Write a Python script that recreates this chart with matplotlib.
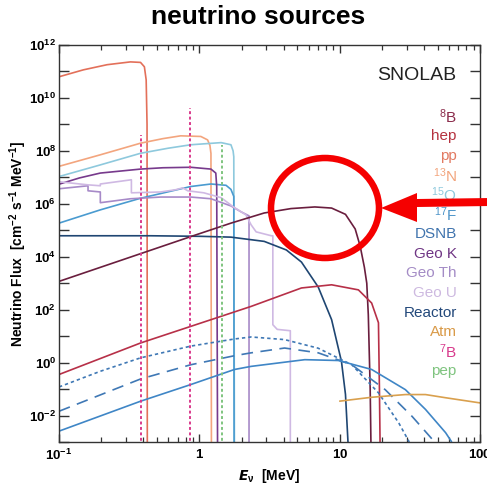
import numpy as np
import matplotlib
matplotlib.use('Agg')
import matplotlib.pyplot as plt
from matplotlib.patches import Ellipse, Polygon
from matplotlib.ticker import FixedLocator, FuncFormatter, NullFormatter

plt.rcParams['font.family'] = ['Liberation Sans', 'DejaVu Sans']
plt.rcParams['mathtext.fontset'] = 'custom'
plt.rcParams['mathtext.rm'] = 'Liberation Sans'
plt.rcParams['mathtext.it'] = 'Liberation Sans:italic'
plt.rcParams['mathtext.bf'] = 'Liberation Sans:bold'

# ---------------- data (E in MeV, flux in cm^-2 s^-1 MeV^-1) ----------------
pp_E = [0.1, 0.149, 0.22, 0.323, 0.381, 0.406, 0.418, 0.424, 0.426]
pp_F = [6.3e10, 1.15e11, 1.8e11, 2.3e11, 2.2e11, 1.5e11, 4.8e10, 1e9, 1e-4]

n13_E = [0.1, 0.197, 0.381, 0.55, 0.736, 1.025, 1.145, 1.19, 1.21, 1.22]
n13_F = [2.6e7, 7.1e7, 1.95e8, 2.9e8, 3.7e8, 3.5e8, 2.6e8, 1.6e8, 8e7, 1e-4]

o15_E = [0.1, 0.197, 0.381, 0.6, 0.869, 1.43, 1.68, 1.74, 1.76, 1.78]
o15_F = [1.07e7, 2.95e7, 8.1e7, 1.26e8, 1.7e8, 2.05e8, 1.7e8, 1e8, 6e7, 1e-4]

f17_E = [0.1, 0.197, 0.381, 0.869, 1.21, 1.55, 1.68, 1.76, 1.77]
f17_F = [1.86e5, 5.9e5, 1.62e6, 4.5e6, 5.6e6, 5.0e6, 3.5e6, 1.9e6, 1e-4]

geoK_E = [0.1, 0.14, 0.197, 0.381, 0.55, 0.869, 1.21, 1.31, 1.33, 1.35]
geoK_F = [5.5e6, 9.5e6, 1.45e7, 2.05e7, 2.3e7, 2.4e7, 2.05e7, 1.45e7, 4.5e6, 1e-4]

geoTh_E = [0.1, 0.161, 0.161, 0.197, 0.197, 0.323, 0.53, 0.869, 1.21, 1.68, 1.98, 2.26, 2.26]
geoTh_F = [3.7e6, 4.8e6, 3.1e6, 2.8e6, 1.1e6, 1.55e6, 1.8e6, 1.8e6, 1.55e6, 8.3e5, 5.0e5, 3.5e5, 1e-4]

geoU_E = [0.1, 0.161, 0.197, 0.197, 0.328, 0.328, 0.53, 0.678, 0.762, 0.827, 1.077, 1.43,
          1.74, 2.15, 2.34, 2.54, 3.26, 3.34, 3.34, 3.59, 4.45, 4.45]
geoU_F = [6.8e6, 5.2e6, 4.8e6, 5.6e6, 8.1e6, 2.6e6, 2.8e6, 3.4e6, 4.0e6, 3.1e6, 2.6e6, 1.7e6,
          7.8e5, 3.8e5, 1.6e5, 8.7e4, 6.2e4, 6.2e4, 27, 18, 16, 1e-4]

reactor_E = [0.1, 0.449, 1.025, 1.68, 2.9, 4.17, 5.34, 7.03, 8.76, 10.3, 11.0, 11.6, 11.7]
reactor_F = [6.2e4, 6.2e4, 5.9e4, 5.5e4, 3.8e4, 1.8e4, 6.3e3, 720, 42, 1.1, 0.063, 3e-4, 1e-4]

b8_E = [0.1, 0.88, 1.68, 2.9, 4.5, 6.65, 8.76, 11.0, 12.9, 14.0, 15.0, 15.6, 16.0, 16.5, 16.8]
b8_F = [1.17e3, 5.9e4, 1.86e5, 4.5e5, 6.6e5, 7.6e5, 6.9e5, 4.0e5, 1.12e5, 2.5e4, 4.0e3, 1.0e3, 63, 0.1, 1e-4]

hep_E = [0.1, 0.381, 0.869, 2.34, 5.34, 8.76, 13.6, 16.9, 18.9, 19.2, 19.5]
hep_F = [0.355, 5.5, 23.4, 133, 660, 870, 560, 178, 32, 0.1, 1e-4]

dsnb_dot_E = [0.1, 0.197, 0.381, 0.869, 1.78, 2.34, 4.05, 7.03, 12.2, 18.9, 26.4, 31.1, 33]
dsnb_dot_F = [0.12, 0.47, 1.51, 4.2, 7.8, 9.3, 7.4, 3.5, 0.83, 0.072, 0.0052, 0.00107, 3e-4]

dsnb_dash_E = [0.1, 0.381, 0.869, 1.78, 2.34, 4.05, 7.03, 12.2, 21.1, 32.8, 47.0, 50]
dsnb_dash_F = [0.0145, 0.24, 0.83, 1.82, 2.34, 3.55, 2.34, 0.83, 0.095, 0.0093, 0.00107, 3e-4]

dsnb_sol_E = [0.1, 0.381, 0.869, 1.78, 2.34, 5.64, 9.79, 16.9, 29.4, 40.9, 56.9, 62.5, 66]
dsnb_sol_F = [0.00257, 0.0347, 0.148, 0.55, 0.72, 1.29, 1.2, 0.55, 0.095, 0.017, 0.00224, 0.00105, 3e-4]

atm_E = [10.05, 16.9, 29.4, 40.9, 56.9, 100]
atm_F = [0.035, 0.049, 0.062, 0.062, 0.047, 0.030]

be7_E = [0.384, 0.862]
be7_F = [4.0e8, 4.0e9]
pep_E = [1.44]
pep_F = [1.7e8]

legend_labels = ['$^8$B', 'hep', 'pp', '$^{13}$N', '$^{15}$O', '$^{17}$F', 'DSNB', 'Geo K',
                 'Geo Th', 'Geo U', 'Reactor', 'Atm', '$^7$B', 'pep']
legend_colors = ['#8a2a4a', '#b5323f', '#e27a62', '#f2a47c', '#8ec9dd', '#4f95c9', '#3f73ad',
                 '#6f3584', '#a48cc6', '#cdb9e0', '#22487a', '#d99a48', '#d83a8c', '#7fc47f']

x_ticks = [0.1, 1, 10, 100]
x_ticklabels = [r'$\mathbf{10^{-1}}$', r'$\mathbf{1}$', r'$\mathbf{10}$', r'$\mathbf{100}$']

# ---------------- figure ----------------
W, H = 487, 486
fig = plt.figure(figsize=(W / 100, H / 100), dpi=100)
ax = fig.add_axes([59 / W, 1 - 442 / H, (480 - 59) / W, (442 - 45) / H])
ax.set_xscale('log')
ax.set_yscale('log')
ax.set_xlim(0.1, 100)
ax.set_ylim(1e-3, 1e12)

lw = 1.2
ax.plot(pp_E, pp_F, color='#e3705a', lw=lw)
ax.plot(n13_E, n13_F, color='#f3a57e', lw=lw)
ax.plot(o15_E, o15_F, color='#8ec9dd', lw=lw)
ax.plot(f17_E, f17_F, color='#4a9bd0', lw=lw)
ax.plot(geoK_E, geoK_F, color='#773a8c', lw=lw)
ax.plot(geoTh_E, geoTh_F, color='#a78ac8', lw=lw)
ax.plot(geoU_E, geoU_F, color='#cfb9e3', lw=lw)
ax.plot(reactor_E, reactor_F, color='#1f4672', lw=lw)
ax.plot(b8_E, b8_F, color='#6a1e3e', lw=lw)
ax.plot(hep_E, hep_F, color='#b73048', lw=lw)
ax.plot(dsnb_dot_E, dsnb_dot_F, color='#3f78b5', lw=lw, ls=(0, (2, 1.8)))
ax.plot(dsnb_dash_E, dsnb_dash_F, color='#3f78b5', lw=lw, ls=(0, (7, 4.5)))
ax.plot(dsnb_sol_E, dsnb_sol_F, color='#3f86c6', lw=lw)
ax.plot(atm_E, atm_F, color='#d9a04e', lw=lw)
ax.vlines(be7_E, 1e-4, be7_F, color='#d93a8c', lw=1.4, linestyles=(0, (1.5, 1.3)))
ax.vlines(pep_E, 1e-4, pep_F, color='#7fc47f', lw=1.4, linestyles=(0, (1.5, 1.3)))

# axes styling
for s in ax.spines.values():
    s.set_color('#333333')
    s.set_linewidth(1.0)
ax.yaxis.set_major_locator(FixedLocator([10.0 ** k for k in range(-3, 13)]))
ax.yaxis.set_minor_locator(FixedLocator([]))
ax.yaxis.set_major_formatter(FuncFormatter(
    lambda v, p: (r'$\mathbf{10^{%d}}$' % round(np.log10(v))) if round(np.log10(v)) % 2 == 0 else ''))
ax.xaxis.set_major_locator(FixedLocator(x_ticks))
ax.set_xticklabels(x_ticklabels)
ax.xaxis.set_minor_locator(FixedLocator([m * 10.0 ** d for d in range(-1, 2) for m in range(2, 10)]))
ax.xaxis.set_minor_formatter(NullFormatter())
ax.tick_params(which='both', direction='in', top=True, right=True, color='#333333')
ax.tick_params(axis='y', which='major', length=7, width=1.0, labelsize=9.5, pad=2)
ax.tick_params(axis='x', which='major', length=6, width=1.0, labelsize=9.5, pad=4)
ax.tick_params(axis='x', which='minor', length=3.5, width=0.9)

ax.set_ylabel(r'Neutrino Flux  [cm$^{\mathbf{-2}}$ s$^{\mathbf{-1}}$ MeV$^{\mathbf{-1}}$]',
              fontsize=10, fontweight='bold', labelpad=0)
ax.set_xlabel(r'$\boldsymbol{E}_{\mathbf{\nu}}$  [MeV]', fontsize=10, fontweight='bold', labelpad=3)

# title
fig.text(258 / W, 1 - 17 / H, 'neutrino sources', fontsize=19, fontweight='bold',
         ha='center', va='center')

# legend-like coloured labels
fig.text(456.7 / W, 1 - 73 / H, 'SNOLAB', fontsize=14, color='#222222', ha='right', va='center_baseline')
y0, dy = 115, 19.6
for i, (lab, col) in enumerate(zip(legend_labels, legend_colors)):
    fig.text(456.7 / W, 1 - (y0 + dy * i) / H, lab, fontsize=11, color=col,
             ha='right', va='center_baseline')

# red annotation (circle + arrow) in figure pixel coordinates
def P(x, y):
    return (x / W, 1 - y / H)

ell = Ellipse(P(325, 208), 108 / W, 100 / H, transform=fig.transFigure, fill=False,
              edgecolor='#f50000', lw=4.7, zorder=10)
fig.patches.append(ell)
arrow = Polygon([P(381, 208), P(417, 193), P(417, 199), P(490, 198), P(490, 206),
                 P(417, 207), P(417, 222)], closed=True, transform=fig.transFigure,
                facecolor='#f50000', edgecolor='none', zorder=10)
fig.patches.append(arrow)

fig.savefig('out.png', dpi=100)
